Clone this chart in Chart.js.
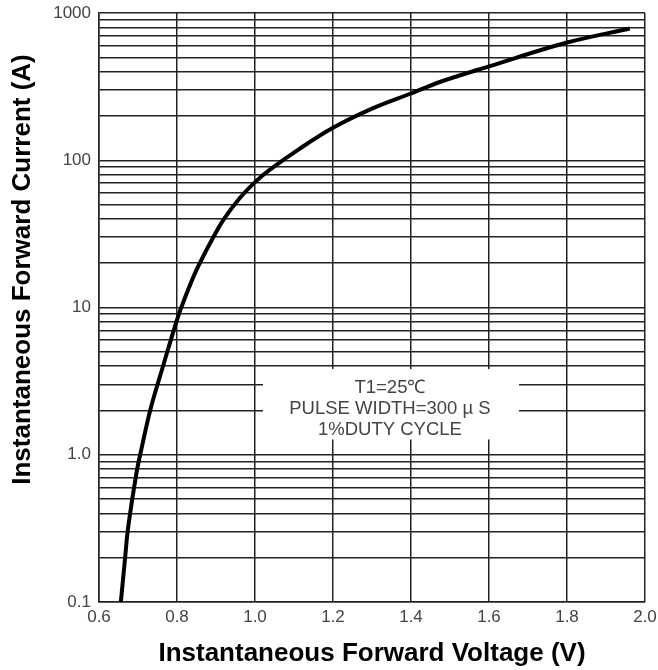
<!DOCTYPE html>
<html>
<head>
<meta charset="utf-8">
<script src="https://cdn.jsdelivr.net/npm/chart.js@4.4.0/dist/chart.umd.min.js"></script>
<style>
  html, body { margin: 0; padding: 0; background: #fff; }
  #wrap { width: 658px; height: 670px; position: relative; }
</style>
</head>
<body>
<div id="wrap"><canvas id="c" width="658" height="670"></canvas></div>
<script>
// Forward voltage (V) and instantaneous forward current (A)
const voltage = [0.656, 0.667, 0.674, 0.696, 0.708, 0.732, 0.763, 0.801, 0.818, 0.850, 0.893, 0.919, 0.960, 1.000, 1.040, 1.115, 1.200, 1.300, 1.400, 1.474, 1.600, 1.800, 1.961];
const current = [0.10, 0.20, 0.31, 0.75, 1.07, 2.04, 3.90, 8.4, 11.2, 18, 30, 39.4, 55, 71, 87, 120, 166, 224, 284, 340, 434, 630, 785];

// Axis ticks
const xTickValues = [0.6, 0.8, 1.0, 1.2, 1.4, 1.6, 1.8, 2.0];
const xTickLabels = ['0.6', '0.8', '1.0', '1.2', '1.4', '1.6', '1.8', '2.0'];
const yGridValues = [0.1,0.2,0.3,0.4,0.5,0.6,0.7,0.8,0.9,1,2,3,4,5,6,7,8,9,10,20,30,40,50,60,70,80,90,100,200,300,400,500,600,700,800,900,1000];
const yMajorValues = [0.1, 1, 10, 100, 1000];
const yMajorLabels = ['0.1', '1.0', '10', '100', '1000'];

// Texts
const xTitle = 'Instantaneous Forward Voltage (V)';
const yTitle = 'Instantaneous Forward Current (A)';
const noteLines = ['T1=25\u2103', 'PULSE WIDTH=300 \u00B5 S', '1%DUTY CYCLE'];

const points = voltage.map((v, i) => ({ x: v, y: current[i] }));

const extras = {
  id: 'extras',
  beforeDatasetsDraw(chart) {
    const ctx = chart.ctx;
    const xs = chart.scales.x, ys = chart.scales.y;
    // annotation box (white, covering grid)
    const left = xs.getPixelForValue(1.0205), right = xs.getPixelForValue(1.677);
    const top = ys.getPixelForValue(3.82), bottom = ys.getPixelForValue(1.27);
    ctx.save();
    ctx.fillStyle = '#ffffff';
    ctx.fillRect(left, top, right - left, bottom - top);
    ctx.fillStyle = '#444';
    ctx.font = '18.5px "Liberation Sans", Arial, sans-serif';
    ctx.textAlign = 'center';
    ctx.textBaseline = 'middle';
    const cx = xs.getPixelForValue(1.346);
    const y0 = ys.getPixelForValue(2.85);
    noteLines.forEach((t, i) => ctx.fillText(t, cx, y0 + i * 21));
    ctx.restore();
  },
  afterDraw(chart) {
    const ctx = chart.ctx;
    const xs = chart.scales.x, ys = chart.scales.y;
    ctx.save();
    ctx.fillStyle = '#000';
    ctx.font = 'bold 26px "Liberation Sans", Arial, sans-serif';
    ctx.textAlign = 'center';
    ctx.textBaseline = 'alphabetic';
    ctx.fillText(xTitle, (xs.left + xs.right) / 2, 661);
    ctx.translate(30, ys.getPixelForValue(10) - 38);
    ctx.rotate(-Math.PI / 2);
    ctx.fillText(yTitle, 0, 0);
    ctx.restore();
  }
};

new Chart(document.getElementById('c'), {
  type: 'scatter',
  data: {
    datasets: [{
      data: points,
      showLine: true,
      borderColor: '#000',
      borderWidth: 4,
      pointRadius: 0,
      tension: 0.35,
      fill: false
    }]
  },
  options: {
    responsive: false,
    animation: false,
    events: [],
    layout: { padding: { top: 13, right: 13, left: 0, bottom: 0 } },
    plugins: { legend: { display: false }, tooltip: { enabled: false } },
    scales: {
      x: {
        type: 'linear',
        min: 0.6, max: 2.0,
        afterBuildTicks(scale) { scale.ticks = xTickValues.map(v => ({ value: v })); },
        afterFit(scale) { scale.height = 68; scale.paddingLeft = 0; scale.paddingRight = 0; },
        ticks: {
          autoSkip: false,
          maxRotation: 0,
          padding: 5,
          color: '#444',
          font: { family: '"Liberation Sans", Arial, sans-serif', size: 17 },
          callback: (v, i) => xTickLabels[i]
        },
        grid: { color: '#222', lineWidth: 1.5, drawTicks: false },
        border: { color: '#222', width: 1.5 }
      },
      y: {
        type: 'logarithmic',
        min: 0.1, max: 1000,
        afterBuildTicks(scale) { scale.ticks = yGridValues.map(v => ({ value: v })); },
        afterFit(scale) { scale.width = 99; scale.paddingTop = 0; scale.paddingBottom = 0; },
        ticks: {
          autoSkip: false,
          padding: 8,
          color: '#444',
          font: { family: '"Liberation Sans", Arial, sans-serif', size: 17 },
          callback: (v) => {
            const k = yMajorValues.findIndex(m => Math.abs(m - v) / m < 1e-6);
            return k >= 0 ? yMajorLabels[k] : '';
          }
        },
        grid: { color: '#222', lineWidth: 1.5, drawTicks: false },
        border: { color: '#222', width: 1.5 }
      }
    }
  },
  plugins: [extras]
});
</script>
</body>
</html>
